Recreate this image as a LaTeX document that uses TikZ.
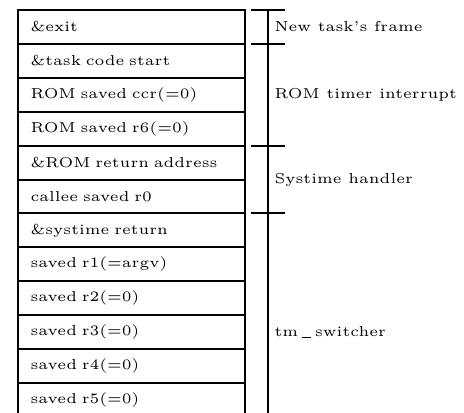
\documentclass[tikz,border=0pt]{standalone}
\usepackage{fontspec}
\usetikzlibrary{positioning}
\tikzset{>=latex}
\newfontfamily\smallrm{lmroman5-regular.otf}[Ligatures=TeX]
\tikzstyle{cell}=[rectangle, draw, thick, outer sep=0pt, inner xsep=5pt, inner ysep=0pt,
  minimum width=90.8pt, minimum height=13.56pt, text width=80.8pt, align=left,
  font=\smallrm\fontsize{5.75}{7}\selectfont]
\tikzstyle{lbl}=[inner sep=0pt, anchor=west, font=\smallrm\fontsize{5.75}{7}\selectfont]
\newcommand{\cell}{\node[cell]}
\newcommand{\uscore}{\kern1.4pt\rule[-0.8pt]{3.6pt}{0.4pt}\kern1.8pt}

\begin{document}
\begin{tikzpicture}[x=0.4pt, y=-0.4pt]
\useasboundingbox (0,0) rectangle (464,412);
\clip (0,0) rectangle (464,412);
% stack frame
\cell[anchor=north west] (c1) at (18,10) {\&exit};
\foreach \t [count=\i from 2, evaluate=\i as \j using int(\i-1)] in
  {{\&task code start}, {ROM saved ccr(=0)}, {ROM saved r6(=0)},
   {\&ROM return address}, {callee saved r0}, {\&systime return},
   {saved r1(=argv)}, {saved r2(=0)}, {saved r3(=0)}, {saved r4(=0)},
   {saved r5(=0)}}
  \cell[below=0pt of c\j] (c\i) {\t};
% bracket
\coordinate (btop) at ([xshift=9.2pt]c1.north east);
\coordinate (bbot) at ([xshift=9.2pt]c12.south east);
\draw[thick] (btop) -- (bbot);
\foreach \k in {1,2,5,7}
  \draw[thick] ([xshift=2.4pt]c\k.north east) -- ++(34,0);
% labels
\node[lbl, right=11.6pt of c1.east] (nf) {New task's frame};
\node[lbl, right=11.6pt of c3.east] (ri) {ROM timer interrupt};
\node[lbl, right=11.6pt of c5.south east] (sh) {Systime handler};
\node[lbl, right=11.6pt of c10.east] (ts) {tm\uscore switcher};
\end{tikzpicture}
\end{document}
